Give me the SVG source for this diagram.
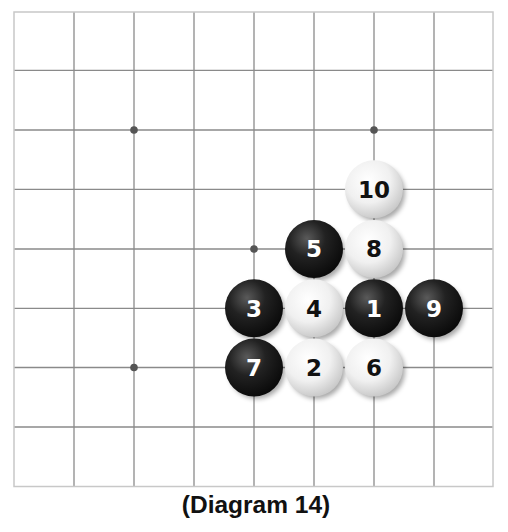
<svg xmlns="http://www.w3.org/2000/svg" width="508" height="532" viewBox="0 0 508 532">
<defs>
<radialGradient id="gb" cx="0.38" cy="0.32" r="0.7">
<stop offset="0" stop-color="#5a5a5a"/>
<stop offset="0.45" stop-color="#222"/>
<stop offset="1" stop-color="#0a0a0a"/>
</radialGradient>
<radialGradient id="gw" cx="0.4" cy="0.35" r="0.7">
<stop offset="0" stop-color="#ffffff"/>
<stop offset="0.55" stop-color="#f0f0f0"/>
<stop offset="1" stop-color="#c4c4c4"/>
</radialGradient>
<filter id="sh" x="-30%" y="-30%" width="160%" height="160%">
<feGaussianBlur stdDeviation="2.5"/>
</filter>
<style>
.grid line{stroke:#8a8a8a;stroke-width:1.3}
.border{fill:none;stroke:#c8c8c8;stroke-width:1.5}
.star{fill:#555}
.shadow{fill:#000;opacity:0.35}
.b{fill:url(#gb)}
.w{fill:url(#gw)}
.n{font-family:"DejaVu Sans",sans-serif;font-weight:bold;font-size:23px;text-anchor:middle}
.nb{fill:#fff}
.nw{fill:#111}
.cap{font-family:"Liberation Sans",Arial,sans-serif;font-weight:bold;font-size:24.5px;text-anchor:middle;fill:#111}
</style>
</defs>
<rect width="508" height="532" fill="#fff"/>
<g id="board">
<g class="grid">
<line x1="74" y1="12" x2="74" y2="486.5"/>
<line x1="134" y1="12" x2="134" y2="486.5"/>
<line x1="194" y1="12" x2="194" y2="486.5"/>
<line x1="254" y1="12" x2="254" y2="486.5"/>
<line x1="314" y1="12" x2="314" y2="486.5"/>
<line x1="374" y1="12" x2="374" y2="486.5"/>
<line x1="434" y1="12" x2="434" y2="486.5"/>
<line x1="14" y1="70.3" x2="493" y2="70.3"/>
<line x1="14" y1="130" x2="493" y2="130"/>
<line x1="14" y1="189.3" x2="493" y2="189.3"/>
<line x1="14" y1="249" x2="493" y2="249"/>
<line x1="14" y1="308.3" x2="493" y2="308.3"/>
<line x1="14" y1="367.5" x2="493" y2="367.5"/>
<line x1="14" y1="427" x2="493" y2="427"/>
</g>
<rect class="border" x="14" y="12" width="479" height="474.5"/>
<circle class="star" cx="134" cy="130" r="3.8"/>
<circle class="star" cx="374" cy="130" r="3.8"/>
<circle class="star" cx="254" cy="249" r="3.8"/>
<circle class="star" cx="134" cy="367.5" r="3.8"/>
</g>
<g id="stone-10"><circle class="shadow" cx="377" cy="193" r="28" filter="url(#sh)"/><circle class="w" cx="374" cy="189.3" r="29"/><text class="n nw" x="374" y="197.5">10</text></g>
<g id="stone-5"><circle class="shadow" cx="317" cy="253" r="28" filter="url(#sh)"/><circle class="b" cx="314" cy="249" r="29"/><text class="n nb" x="314" y="257.3">5</text></g>
<g id="stone-8"><circle class="shadow" cx="377" cy="253" r="28" filter="url(#sh)"/><circle class="w" cx="374" cy="249" r="29"/><text class="n nw" x="374" y="257.3">8</text></g>
<g id="stone-3"><circle class="shadow" cx="257" cy="312" r="28" filter="url(#sh)"/><circle class="b" cx="254" cy="308.3" r="29"/><text class="n nb" x="254" y="316.6">3</text></g>
<g id="stone-4"><circle class="shadow" cx="317" cy="312" r="28" filter="url(#sh)"/><circle class="w" cx="314" cy="308.3" r="29"/><text class="n nw" x="314" y="316.6">4</text></g>
<g id="stone-1"><circle class="shadow" cx="377" cy="312" r="28" filter="url(#sh)"/><circle class="b" cx="374" cy="308.3" r="29"/><text class="n nb" x="374" y="316.6">1</text></g>
<g id="stone-9"><circle class="shadow" cx="437" cy="312" r="28" filter="url(#sh)"/><circle class="b" cx="434" cy="308.3" r="29"/><text class="n nb" x="434" y="316.6">9</text></g>
<g id="stone-7"><circle class="shadow" cx="257" cy="371" r="28" filter="url(#sh)"/><circle class="b" cx="254" cy="367.5" r="29"/><text class="n nb" x="254" y="375.8">7</text></g>
<g id="stone-2"><circle class="shadow" cx="317" cy="371" r="28" filter="url(#sh)"/><circle class="w" cx="314" cy="367.5" r="29"/><text class="n nw" x="314" y="375.8">2</text></g>
<g id="stone-6"><circle class="shadow" cx="377" cy="371" r="28" filter="url(#sh)"/><circle class="w" cx="374" cy="367.5" r="29"/><text class="n nw" x="374" y="375.8">6</text></g>
<g id="connectors"/>
<text class="cap" x="256" y="513">(Diagram 14)</text>
</svg>
